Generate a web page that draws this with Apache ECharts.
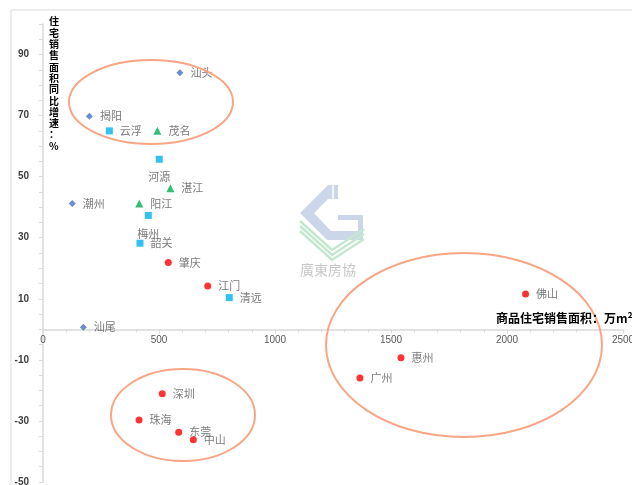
<!DOCTYPE html>
<html>
<head>
<meta charset="utf-8">
<script src="https://cdn.jsdelivr.net/npm/echarts@6/dist/echarts.min.js"></script>
<style>html,body{margin:0;padding:0;background:#fff;}#c{width:632px;height:485px;}</style>
</head>
<body>
<div id="c"></div>
<script>
// ---- data (x: 商品住宅销售面积 万m², y: 同比增速 %) ----
const yuedongNames = ['汕头', '揭阳', '潮州', '汕尾'];
const yuedongArea = [590, 200, 126, 174];
const yuedongGrowth = [84.0, 69.8, 41.2, 0.7];

const yuebeiNames = ['云浮', '河源', '梅州', '韶关', '清远'];
const yuebeiArea = [286, 501, 454, 418, 803];
const yuebeiGrowth = [65.0, 55.7, 37.3, 28.2, 10.4];

const yuexiNames = ['茂名', '湛江', '阳江'];
const yuexiArea = [493, 549, 415];
const yuexiGrowth = [65.0, 46.2, 41.2];

const prdNames = ['肇庆', '江门', '佛山', '惠州', '广州', '深圳', '珠海', '东莞', '中山'];
const prdArea = [540, 710, 2080, 1543, 1366, 514, 414, 585, 648];
const prdGrowth = [21.9, 14.2, 11.6, -9.3, -15.9, -21.1, -29.7, -33.7, -36.2];

const yTickLabels = [-50, -30, -10, 10, 30, 50, 70, 90];
const xTickLabels = [0, 500, 1000, 1500, 2000, 2500];
const belowLabelNames = ['河源', '梅州'];

const yTitle = '住宅销售面积同比增速：%';
const xTitle = '商品住宅销售面积：万m²';
const logoText = '廣東房協';

function pts(names, xs, ys) {
  return names.map((n, i) => {
    const d = { name: n, value: [xs[i], ys[i]] };
    if (belowLabelNames.indexOf(n) >= 0) d.label = { position: 'bottom', distance: 9 };
    return d;
  });
}

const FONT = '"Noto Sans CJK SC", "Noto Sans", sans-serif';
const labelCfg = {
  show: true, position: 'right', distance: 7,
  formatter: p => p.name, color: '#595959', fontSize: 11, fontFamily: FONT
};

const GRID_TOP = 24, GRID_BOTTOM_PX = 482, Y_MIN = -50, Y_MAX = 100;
const zeroOffset = -(0 - Y_MIN) / (Y_MAX - Y_MIN) * (GRID_BOTTOM_PX - GRID_TOP);

const chart = echarts.init(document.getElementById('c'));
chart.setOption({
  animation: false,
  backgroundColor: '#fff',
  grid: { left: 43, right: 9, top: GRID_TOP, bottom: 485 - GRID_BOTTOM_PX, containLabel: false, outerBoundsMode: 'none' },
  xAxis: {
    type: 'value', min: 0, max: 2500, interval: 500,
    position: 'bottom', offset: zeroOffset,
    splitLine: { show: false },
    axisLine: { onZero: false, lineStyle: { color: '#d9d9d9', width: 1.5 } },
    axisTick: { show: true, length: 4, lineStyle: { color: '#d9d9d9' } },
    minorTick: { show: true, splitNumber: 5, length: 3, lineStyle: { color: '#d9d9d9' } },
    axisLabel: {
      color: '#595959', fontSize: 10, fontFamily: '"Liberation Sans", Arial, sans-serif', margin: 6,
      formatter: v => (xTickLabels.indexOf(v) >= 0 ? String(v) : '')
    }
  },
  yAxis: {
    type: 'value', min: Y_MIN, max: Y_MAX, interval: 5,
    splitLine: { show: false },
    axisLine: { lineStyle: { color: '#d9d9d9', width: 1.5 } },
    axisTick: { show: true, length: 4, lineStyle: { color: '#d9d9d9' } },
    axisLabel: {
      color: '#404040', fontSize: 10, fontWeight: 'bold', fontFamily: '"Liberation Sans", Arial, sans-serif', margin: 14,
      formatter: v => (yTickLabels.indexOf(v) >= 0 ? String(v) : '')
    }
  },
  series: [
    { type: 'scatter', name: '粤东', symbol: 'diamond', symbolSize: 7,
      itemStyle: { color: '#4472C4' }, label: labelCfg,
      data: pts(yuedongNames, yuedongArea, yuedongGrowth) },
    { type: 'scatter', name: '粤北', symbol: 'rect', symbolSize: 7,
      itemStyle: { color: '#00B0F0' }, label: labelCfg,
      data: pts(yuebeiNames, yuebeiArea, yuebeiGrowth) },
    { type: 'scatter', name: '粤西', symbol: 'triangle', symbolSize: 8,
      itemStyle: { color: '#00B050' }, label: labelCfg,
      data: pts(yuexiNames, yuexiArea, yuexiGrowth) },
    { type: 'scatter', name: '珠三角', symbol: 'circle', symbolSize: 7,
      itemStyle: { color: '#FF0000' }, label: labelCfg,
      data: pts(prdNames, prdArea, prdGrowth) }
  ],
  graphic: [
    // chart frame
    { type: 'rect', silent: true, z: -10, shape: { x: 11, y: 10, width: 700, height: 600 },
      style: { fill: null, stroke: '#d9d9d9', lineWidth: 1 } },
    // logo watermark
    { type: 'polygon', silent: true, z: -5,
      shape: { points: [[328, 185], [338, 185], [338, 215], [363, 215], [363, 240], [327, 240], [300, 213]] },
      style: { fill: '#cbd6e9' } },
    { type: 'polygon', silent: true, z: -4,
      shape: { points: [[328, 199], [314, 213], [331, 231], [358, 231], [358, 220], [338, 220], [338, 199]] },
      style: { fill: '#ffffff' } },
    { type: 'line', silent: true, z: -4, shape: { x1: 333, y1: 185, x2: 333, y2: 199 },
      style: { stroke: '#ffffff', lineWidth: 1.5 } },
    { type: 'polyline', silent: true, z: -5, shape: { points: [[300, 221], [332, 250], [364, 229]] },
      style: { stroke: '#c3e8cf', lineWidth: 2.5, fill: null } },
    { type: 'polyline', silent: true, z: -5, shape: { points: [[300, 226], [332, 255], [364, 234]] },
      style: { stroke: '#c3e8cf', lineWidth: 2.5, fill: null } },
    { type: 'polyline', silent: true, z: -5, shape: { points: [[300, 231], [332, 260], [364, 239]] },
      style: { stroke: '#c3e8cf', lineWidth: 2.5, fill: null } },
    { type: 'text', silent: true, z: -5, left: 300, top: 263,
      style: { text: logoText, fill: '#c8c8c8', font: '14px ' + FONT } },
    // ellipses
    { type: 'ellipse', silent: true, z: 5, shape: { cx: 151, cy: 102, rx: 82, ry: 42 },
      style: { fill: null, stroke: '#F8A585', lineWidth: 2 } },
    { type: 'ellipse', silent: true, z: 5, shape: { cx: 464, cy: 345, rx: 138, ry: 92 },
      style: { fill: null, stroke: '#F8A585', lineWidth: 2 } },
    { type: 'ellipse', silent: true, z: 5, shape: { cx: 183, cy: 415, rx: 72, ry: 46 },
      style: { fill: null, stroke: '#F8A585', lineWidth: 2 } },
    // axis titles
    { type: 'text', silent: true, z: 10, left: 49, top: 16,
      style: { text: yTitle.split('').join('\n'), fill: '#000', font: 'bold 10px ' + FONT, lineHeight: 11.3 } },
    { type: 'text', silent: true, z: 10, left: 496, top: 312,
      style: { text: xTitle, fill: '#000', font: 'bold 12px ' + FONT } }
  ]
});
</script>
</body>
</html>
